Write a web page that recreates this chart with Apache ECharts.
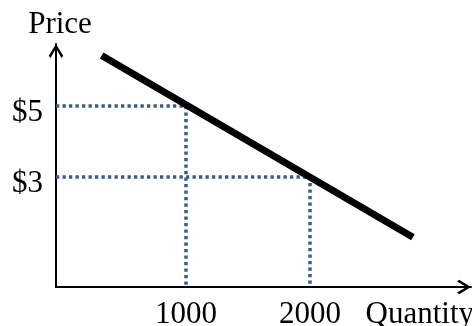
<!DOCTYPE html>
<html><head><meta charset="utf-8">
<script src="https://cdn.jsdelivr.net/npm/echarts@6/dist/echarts.min.js"></script>
<style>html,body{margin:0;padding:0;background:#fff}#c{width:472px;height:326px}</style>
</head><body><div id="c"></div>
<script>
const xTicks = [1000, 2000];
const yTicks = [3, 5];
const demand = [[320, 6.42], [2830, 1.3]];
const guide5 = [[-48, 5], [1000, 5], [1000, -0.099]];
const guide3 = [[-48, 3], [2000, 3], [2000, -0.099]];
const FONT = "'Liberation Serif', 'Times New Roman', serif";
const ARROW = 'path://M0,82 L50,0 L100,82 L88,97 L50,32 L12,97 Z';
const chart = echarts.init(document.getElementById('c'));
const dotStyle = {color: '#365b95', width: 3.5, type: [3.3, 3.2], cap: 'butt'};
chart.setOption({
  animation: false,
  grid: {left: 56, right: 1, top: 44, bottom: 39, containLabel: false, outerBoundsMode: 'none'},
  xAxis: {
    type: 'value', min: -48, max: 3298,
    name: 'Quantity', nameLocation: 'end', nameGap: 3,
    nameTextStyle: {fontFamily: FONT, fontSize: 31, color: '#000', align: 'right', verticalAlign: 'top', padding: [12, 0, 0, 0]},
    axisLine: {onZero: false, lineStyle: {color: '#000', width: 2}, symbol: ['none', ARROW], symbolSize: [17, 14], symbolOffset: [0, -7]},
    axisTick: {show: false}, splitLine: {show: false},
    axisLabel: {customValues: xTicks, formatter: v => String(v), fontFamily: FONT, fontSize: 31, color: '#000', margin: 12}
  },
  yAxis: {
    type: 'value', min: -0.099, max: 6.746,
    name: 'Price', nameLocation: 'end', nameGap: 4,
    nameTextStyle: {fontFamily: FONT, fontSize: 31, color: '#000', align: 'center', padding: [0, 0, 0, 8]},
    axisLine: {onZero: false, lineStyle: {color: '#000', width: 2}, symbol: ['none', ARROW], symbolSize: [17, 14], symbolOffset: [0, -7]},
    axisTick: {show: false}, splitLine: {show: false},
    axisLabel: {customValues: yTicks, formatter: v => '$' + v, fontFamily: FONT, fontSize: 31, color: '#000', margin: 13, verticalAlign: 'top', lineHeight: 13}
  },
  series: [
    {type: 'line', data: guide5, symbol: 'none', lineStyle: dotStyle, z: 1},
    {type: 'line', data: guide3, symbol: 'none', lineStyle: dotStyle, z: 1},
    {type: 'line', data: demand, symbol: 'none', lineStyle: {color: '#000', width: 7, cap: 'butt'}, z: 3}
  ]
});
</script></body></html>
